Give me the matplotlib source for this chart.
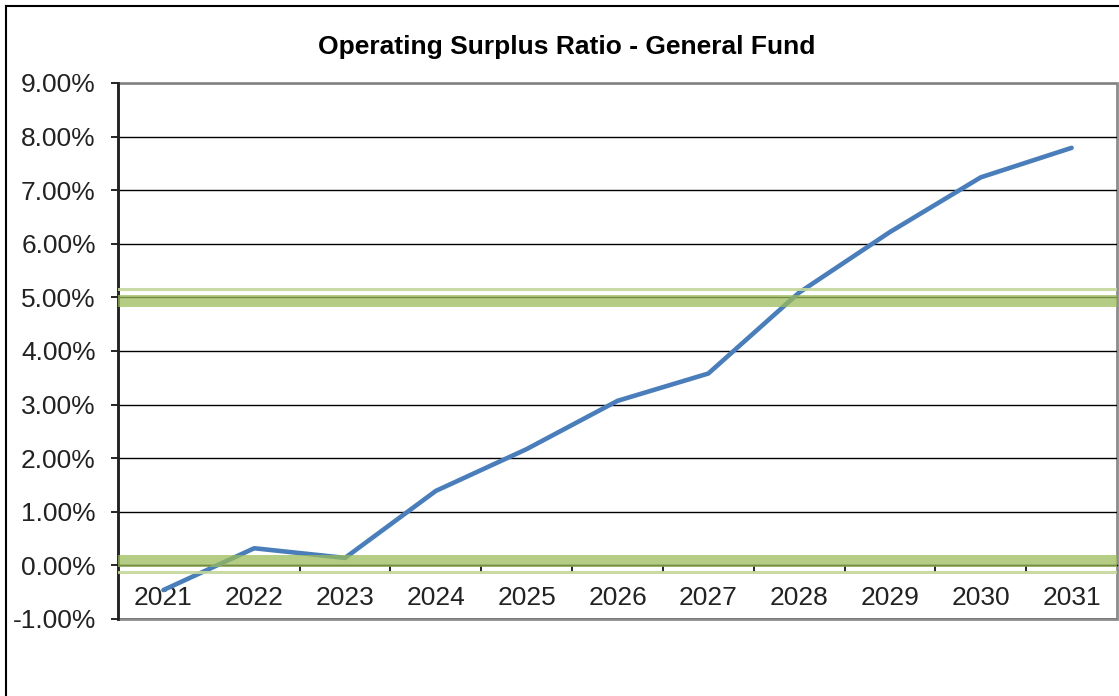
import matplotlib

matplotlib.use("Agg")
import matplotlib.pyplot as plt
from matplotlib.lines import Line2D
from matplotlib.patches import Rectangle
import numpy as np

years = ["2021", "2022", "2023", "2024", "2025", "2026",
         "2027", "2028", "2029", "2030", "2031"]
ratio_pct = [-0.46, 0.32, 0.14, 1.39, 2.17, 3.07, 3.58, 5.09, 6.22, 7.24, 7.79]

# benchmark bands (thick band level, thin light line level)
lower_band = (0.09, -0.12)
upper_band = (4.94, 5.16)
y_ticks = [-1, 0, 1, 2, 3, 4, 5, 6, 7, 8, 9]

plt.rcParams["font.family"] = ["Liberation Sans", "DejaVu Sans"]

W, H = 1119, 696
fig = plt.figure(figsize=(W / 100, H / 100), dpi=100)
ax = fig.add_axes([118 / W, (H - 619) / H, (1117 - 118) / W, (619 - 83) / H])

x = np.arange(len(years))
ax.set_xlim(-0.5, len(years) - 0.5)
ax.set_ylim(-1, 9)

for v in y_ticks:
    ax.axhline(v, color="#000000" if v < 9 else "#808080", linewidth=1.0, zorder=1)

ax.plot(x, ratio_pct, color="#4A7EBB", linewidth=3.3, zorder=3,
        solid_capstyle="round", solid_joinstyle="round")

green = "#9BBB59"
for thick, light in (lower_band, upper_band):
    ax.axhline(thick, color=green, alpha=0.75, linewidth=8.6, zorder=4)
    ax.axhline(light, color="#C3D69B", alpha=0.9, linewidth=2.2, zorder=4)

ax.set_yticks(y_ticks)
ax.set_yticklabels([f"{v:.2f}%" for v in y_ticks], fontsize=19, color="#222222")
ax.tick_params(axis="y", direction="out", length=5, width=1.2, pad=11)

ax.spines["bottom"].set_position(("data", 0))
ax.spines["bottom"].set_color("#000000")
ax.spines["bottom"].set_linewidth(1.0)
ax.set_xticks(x)
ax.set_xticklabels(years, fontsize=19, color="#222222")
ax.tick_params(axis="x", which="major", length=0, pad=15)
ax.set_xticks(np.arange(0.5, len(years) - 1, 1.0), minor=True)
ax.tick_params(axis="x", which="minor", direction="out", length=5, width=1.2)

ax.spines["left"].set_linewidth(2.0)
ax.spines["left"].set_color("#222222")
ax.spines["top"].set_visible(False)
ax.spines["right"].set_visible(False)
ax.add_patch(Rectangle((0, 0), 1, 1, transform=ax.transAxes, fill=False,
                       edgecolor="#8C8C8C", linewidth=2.0, zorder=0, clip_on=False))

fig.text(567 / W, 1 - 47 / H, "Operating Surplus Ratio - General Fund",
         ha="center", va="center", fontsize=19, fontweight="bold")

# outer chart frame (cropped on the right and bottom)
fig.add_artist(Line2D([6 / W, 6 / W], [0, 1 - 6 / H], color="black", linewidth=1.5))
fig.add_artist(Line2D([6 / W, 1], [1 - 6 / H, 1 - 6 / H], color="black", linewidth=1.5))

fig.savefig("out.png", dpi=100, facecolor="white")
